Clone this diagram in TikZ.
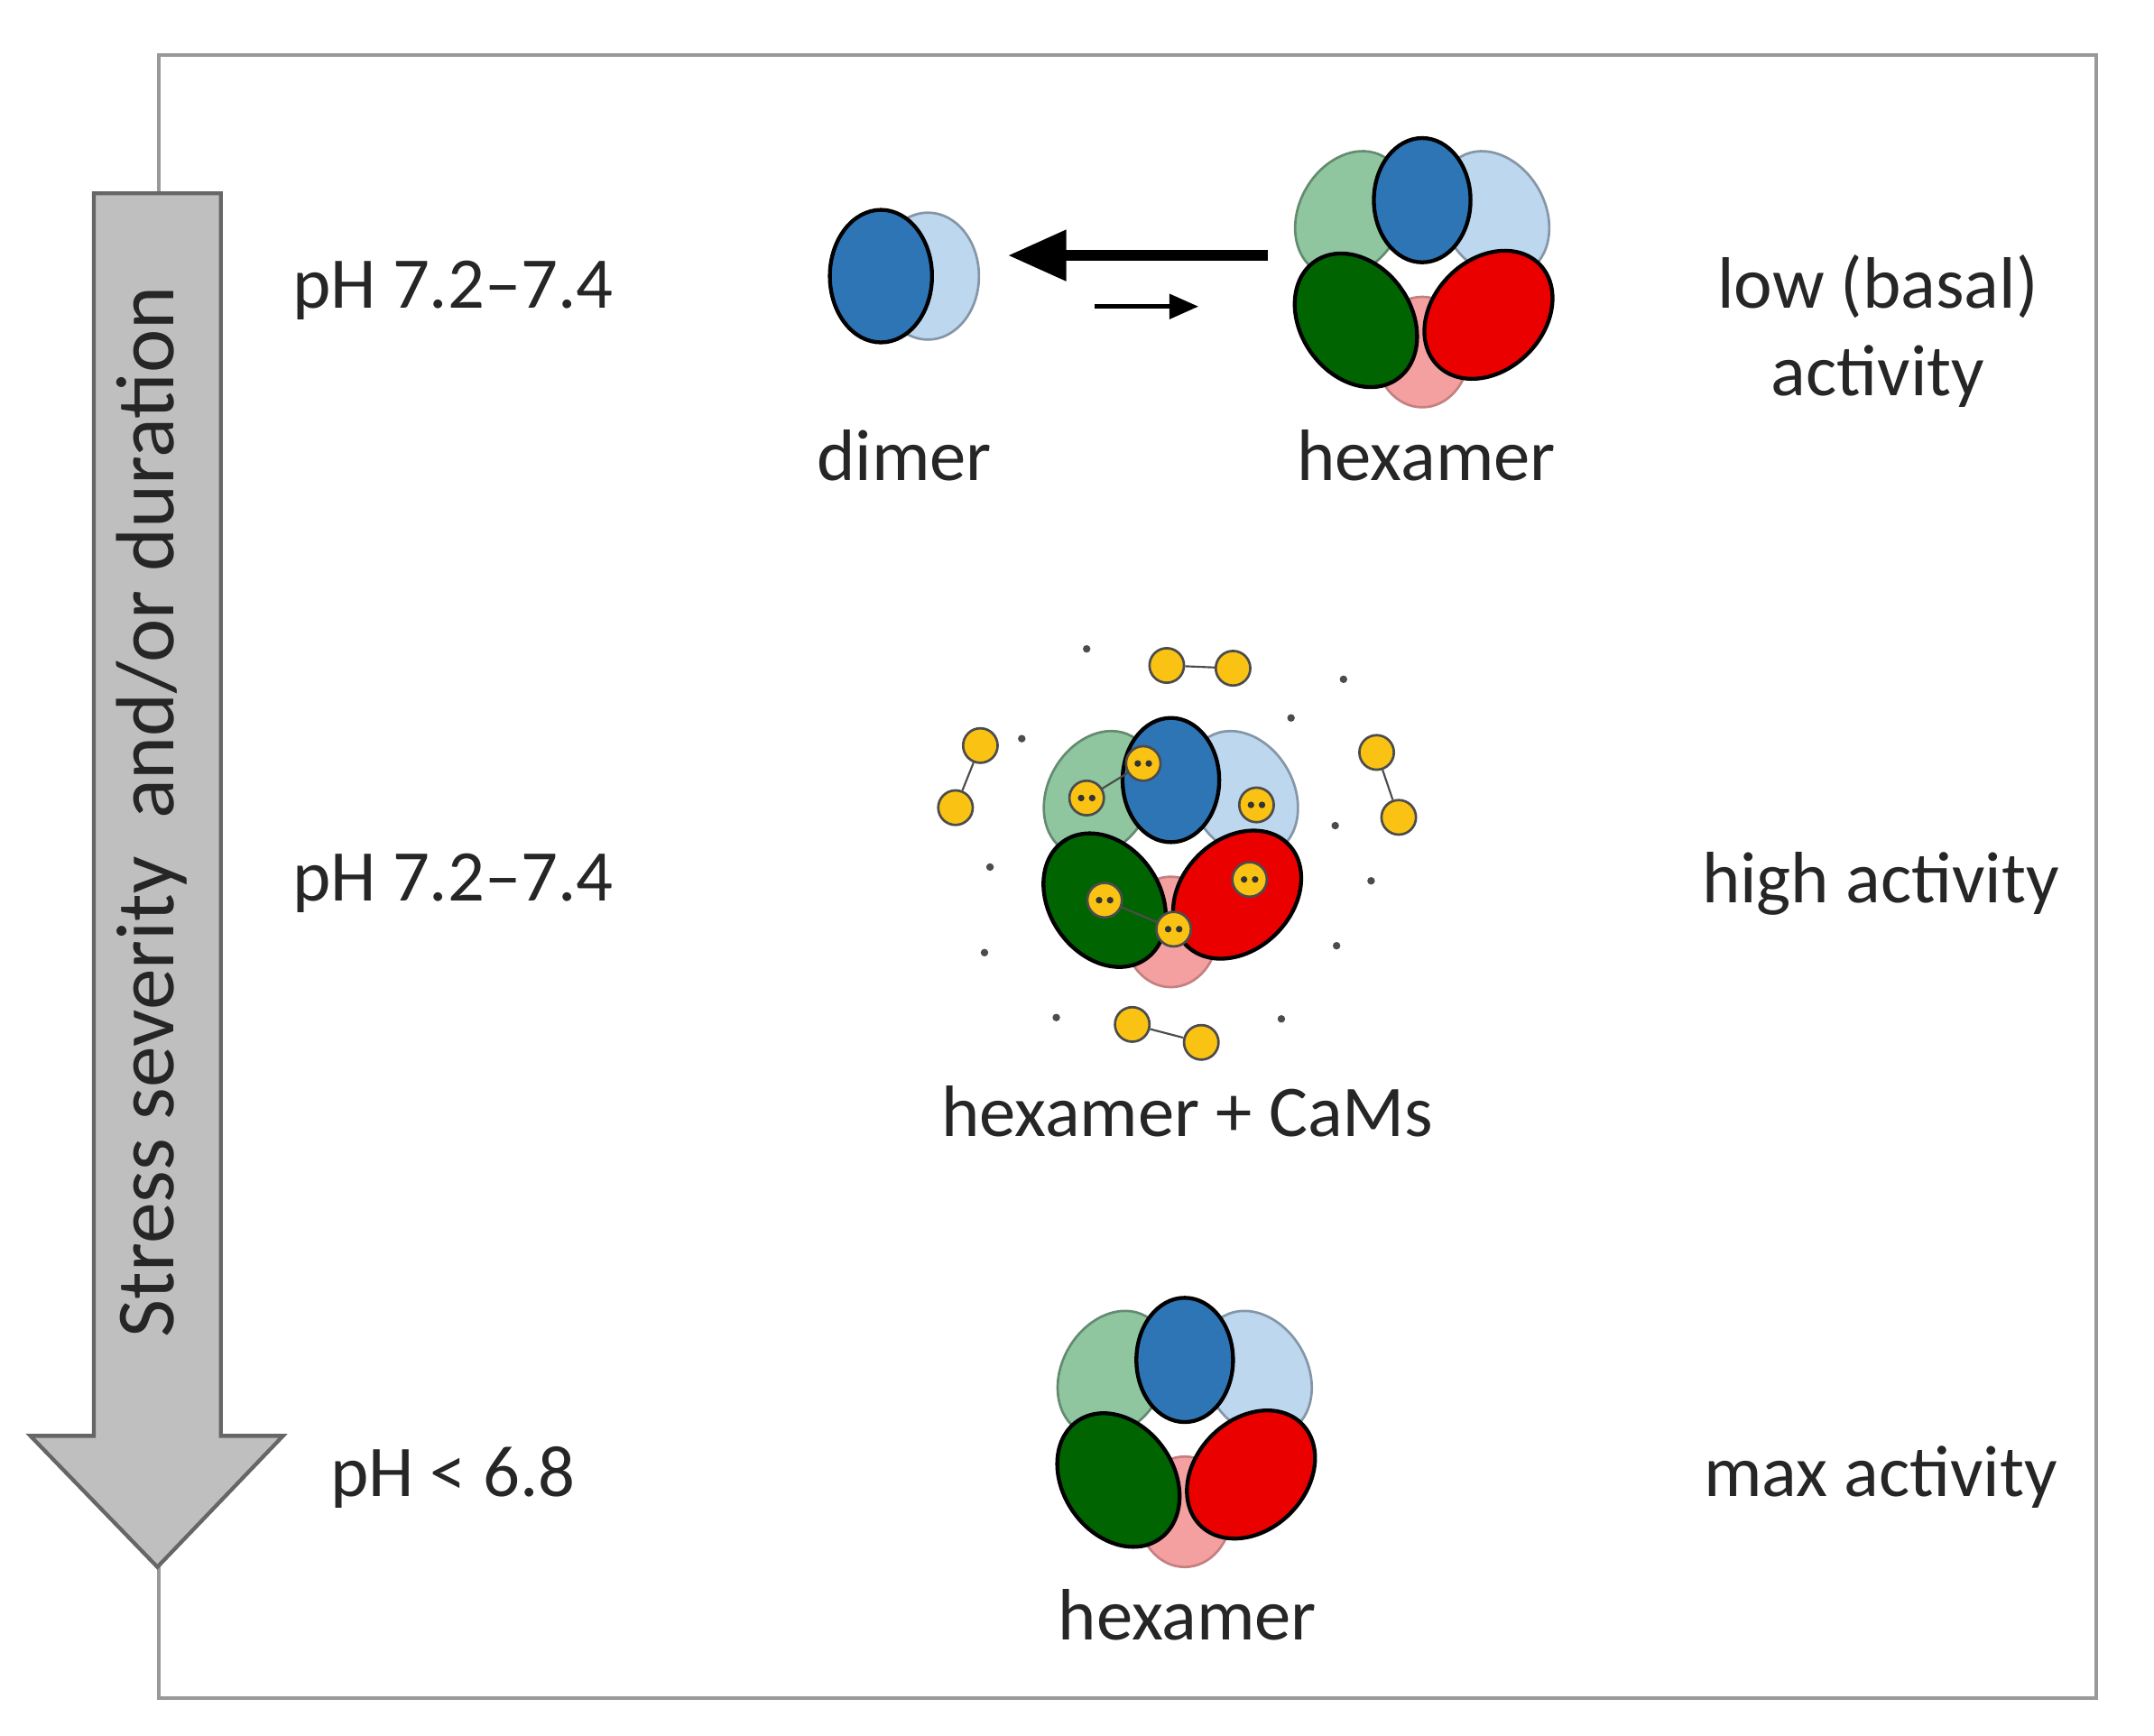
\documentclass[tikz,border=0pt]{standalone}
\usepackage{fontspec}
\setmainfont{Carlito}
\usetikzlibrary{arrows.meta}
\definecolor{dblue}{RGB}{46,117,182}
\definecolor{lblue}{RGB}{189,215,238}
\definecolor{lgreen}{RGB}{143,198,160}
\definecolor{dgreen}{RGB}{0,100,0}
\definecolor{myred}{RGB}{235,0,0}
\definecolor{pink}{RGB}{245,160,160}
\definecolor{camy}{RGB}{250,195,20}
\tikzset{
 lbl/.style={font=\fontsize{15}{18}\selectfont, text=black!85},
 cam/.style={circle, fill=camy, draw=black!70, line width=0.5pt, minimum size=0.25cm, inner sep=0pt},
 dot/.style={circle, fill=black!70, inner sep=0pt, minimum size=0.055cm},
 pics/hexamer/.style={code={
  \fill[lgreen, draw=lgreen!70!black, line width=0.5pt, rotate around={-30:(-52,-45)}] (-52,-45) ellipse [x radius=37, y radius=48];
  \fill[lblue, draw=lblue!70!black, line width=0.5pt, rotate around={30:(52,-45)}] (52,-45) ellipse [x radius=37, y radius=48];
  \fill[pink, draw=pink!80!black, line width=0.5pt] (0,55) ellipse [x radius=34, y radius=40];
  \fill[dblue, draw=black, line width=0.8pt] (0,-55) ellipse [x radius=35, y radius=45];
  \fill[dgreen, draw=black, line width=0.8pt, rotate around={35:(-48,32)}] (-48,32) ellipse [x radius=40, y radius=52];
  \fill[myred, draw=black, line width=0.8pt, rotate around={-45:(48,28)}] (48,28) ellipse [x radius=40, y radius=52];
 }}
}
\newcommand{\camb}[2]{\node[cam] at (#1,#2) {}; \fill[black!80] (#1-4,#2) circle (0.024cm); \fill[black!80] (#1+4,#2) circle (0.024cm);}
\begin{document}
\begin{tikzpicture}[x=0.01cm,y=-0.01cm]
\useasboundingbox (0,0) rectangle (1560,1257);
\draw[black!40, line width=0.8pt] (115,40) rectangle (1518,1230);
% big arrow
\fill[black!25, draw=black!60, line width=0.8pt] (68,140) -- (160,140) -- (160,1040) -- (205,1040) -- (114,1135) -- (22,1040) -- (68,1040) -- cycle;
\node[lbl, rotate=90, font=\fontsize{17}{20}\selectfont] (axis) at (110,588) {Stress severity\ \ and/or duration};
% left labels
\node[lbl] (ph1) at (328,210) {pH 7.2–7.4};
\node[lbl] (ph2) at (328,640) {pH 7.2–7.4};
\node[lbl] (ph3) at (328,1070) {pH < 6.8};
% right labels
\node[lbl, align=center] (a1) at (1360,240) {low (basal)\\activity};
\node[lbl] (a2) at (1362,640) {high activity};
\node[lbl] (a3) at (1362,1070) {max activity};
% dimer
\fill[lblue, draw=lblue!70!black, line width=0.5pt] (672,200) ellipse [x radius=37, y radius=46];
\fill[dblue, draw=black, line width=0.8pt] (638,200) ellipse [x radius=37, y radius=48];
\node[lbl] (dimer) at (655,330) {dimer};
% equilibrium arrows
\coordinate (e1) at (918,185); \coordinate (e2) at (730,185);
\coordinate (e3) at (793,222); \coordinate (e4) at (868,222);
\draw[line width=2.2pt, -{Triangle[length=12pt,width=10pt]}] (e1) -- (e2);
\draw[line width=1pt, -{Triangle[length=6pt,width=5pt]}] (e3) -- (e4);
% hexamer 1
\pic at (1030,200) {hexamer};
\node[lbl] (hex1) at (1033,330) {hexamer};
% hexamer 2 with CaMs
\pic at (848,620) {hexamer};
\draw[black!70] (828,553) -- (787,578);
\draw[black!70] (800,652) -- (850,673);
\camb{828}{553}\camb{787}{578}\camb{910}{583}\camb{905}{637}\camb{800}{652}\camb{850}{673}
\node[cam] (c1) at (845,482) {}; \node[cam] (c2) at (893,484) {}; \draw[black!70] (c1) -- (c2);
\node[cam] (c3) at (710,540) {}; \node[cam] (c4) at (692,585) {}; \draw[black!70] (c3) -- (c4);
\node[cam] (c5) at (997,545) {}; \node[cam] (c6) at (1013,592) {}; \draw[black!70] (c5) -- (c6);
\node[cam] (c7) at (820,742) {}; \node[cam] (c8) at (870,755) {}; \draw[black!70] (c7) -- (c8);
\foreach \p in {(787,470),(740,535),(935,520),(973,492),(717,628),(713,690),(967,598),(993,638),(968,685),(765,737),(928,738)}
  \node[dot] at \p {};
\node[lbl] (hex2) at (860,805) {hexamer + CaMs};
% hexamer 3
\pic at (858,1040) {hexamer};
\node[lbl] (hex3) at (860,1170) {hexamer};
\end{tikzpicture}
\end{document}
